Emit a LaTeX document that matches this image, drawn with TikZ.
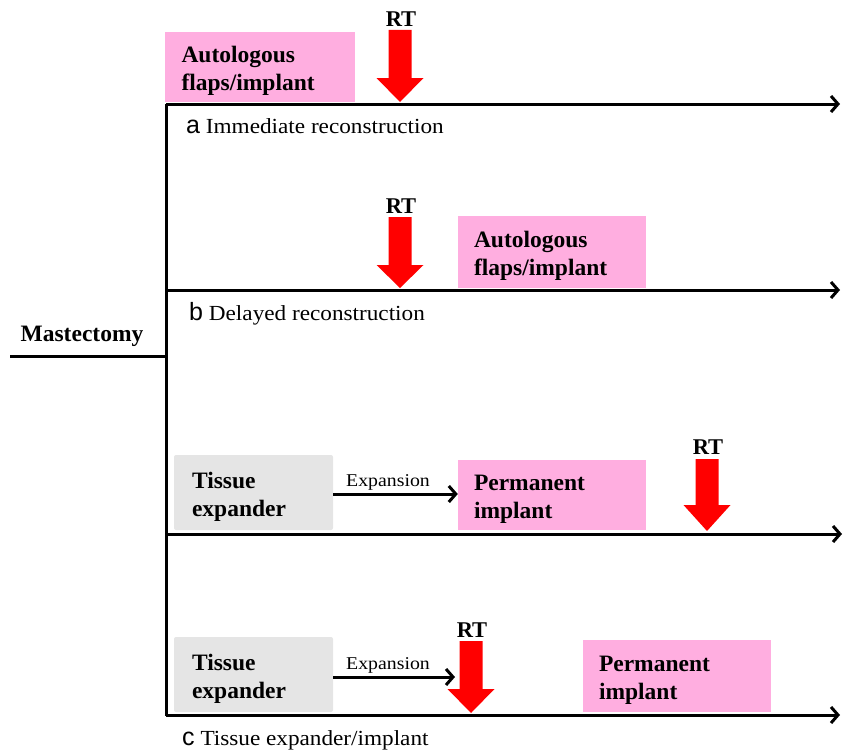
\documentclass[tikz,border=0pt]{standalone}
\usepackage{fontspec}
\setmainfont{Liberation Serif}
\newfontfamily\capfont[FakeStretch=1.08]{Liberation Serif}
\newfontfamily\expfont[FakeStretch=1.1]{Liberation Serif}
\newfontfamily\letterfont{Liberation Sans}
\usetikzlibrary{arrows.meta}
\definecolor{pinkbox}{RGB}{255,174,224}
\definecolor{graybox}{RGB}{229,229,229}
\newcommand\rtarrow[4]{% x, top, head start, tip
  \fill[red] ({#1-11.5},#2) -- ({#1+11.5},#2) -- ({#1+11.5},#3) -- ({#1+23.5},#3)
    -- (#1,#4) -- ({#1-23.5},#3) -- ({#1-11.5},#3) -- cycle;}
\begin{document}
\begin{tikzpicture}[x=1pt,y=-1pt,
  line/.style={line width=3pt},
  arr/.style={line width=3pt,-{Straight Barb[length=7pt,width=16pt]}},
  boxtext/.style={align=left,font=\fontsize{23.5}{28}\selectfont\bfseries,
    execute at begin node={\rule{0pt}{24.5pt}}},
  pinkb/.style={boxtext,fill=pinkbox,minimum width=189pt,minimum height=70pt,text width=156pt,
    inner xsep=17pt},
  grayb/.style={boxtext,fill=graybox,rounded corners=2pt,minimum width=159pt,minimum height=75pt,text width=123pt,
    inner xsep=18pt},
  rtlabel/.style={font=\fontsize{22.5}{24}\selectfont\bfseries,inner sep=0pt},
  caption/.style={anchor=base west,inner sep=0pt,font=\capfont\fontsize{21.5}{24}\selectfont},
  explabel/.style={anchor=base,inner sep=0pt,font=\expfont\fontsize{18}{20}\selectfont}
]
\useasboundingbox (0,0) rectangle (843,752);
% main structure
\coordinate (m0) at (10,356);
\coordinate (m1) at (166,356);
\coordinate (vtop) at (166,104);
\coordinate (vbot) at (166,716);
\coordinate (la0) at (166,104); \coordinate (la1) at (840,104);
\coordinate (lb0) at (166,290); \coordinate (lb1) at (840,290);
\coordinate (lc0) at (166,534); \coordinate (lc1) at (842,534);
\coordinate (ld0) at (166,715); \coordinate (ld1) at (840,715);
\node[anchor=base,inner sep=0pt,font=\fontsize{23.5}{24}\selectfont\bfseries] (mast) at (82,341) {Mastectomy};

% boxes
\node[pinkb] (pa) at (259.5,67) {Autologous\\flaps/implant};
\node[pinkb,minimum width=188pt,minimum height=72pt,inner xsep=16pt] (pb) at (552,252) {Autologous\\flaps/implant};
\node[grayb] (ga) at (253.5,492.5) {Tissue\\expander};
\node[pinkb,minimum width=188pt,inner xsep=16pt] (pc) at (552,495) {Permanent\\implant};
\node[grayb] (gb) at (253.5,674.5) {Tissue\\expander};
\node[pinkb,minimum width=188pt,minimum height=72pt,inner xsep=16pt] (pd) at (677,676) {Permanent\\implant};

\draw[line] (m0) -- (m1);
\draw[line] (vtop) -- (vbot);
\draw[arr] (la0) -- (la1);
\draw[arr] (lb0) -- (lb1);
\draw[arr] (lc0) -- (lc1);
\draw[arr] (ld0) -- (ld1);

% expansion arrows
\draw[arr] (ga.east |- 0,494) -- (pc.west |- 0,494);
\node[explabel] (ea) at (388,486) {Expansion};
\draw[arr] (gb.east |- 0,677) -- (455,677);
\node[explabel] (eb) at (388,669) {Expansion};

% RT arrows
\rtarrow{400}{30}{78}{102}
\node[rtlabel] (rta) at (401,19) {RT};
\rtarrow{400}{217}{265}{288}
\node[rtlabel] (rtb) at (401,206) {RT};
\rtarrow{707}{459}{505}{531}
\node[rtlabel] (rtc) at (708,447) {RT};
\rtarrow{471}{641}{689}{713}
\node[rtlabel] (rtd) at (472,630) {RT};

% captions
\node[caption] (ca) at (186,133) {{\letterfont\fontsize{25}{24}\selectfont a} Immediate reconstruction};
\node[caption] (cb) at (189,320) {{\letterfont\fontsize{25}{24}\selectfont b} Delayed reconstruction};
\node[caption] (cc) at (182,745) {{\letterfont\fontsize{25}{24}\selectfont c} Tissue expander/implant};
\end{tikzpicture}
\end{document}
